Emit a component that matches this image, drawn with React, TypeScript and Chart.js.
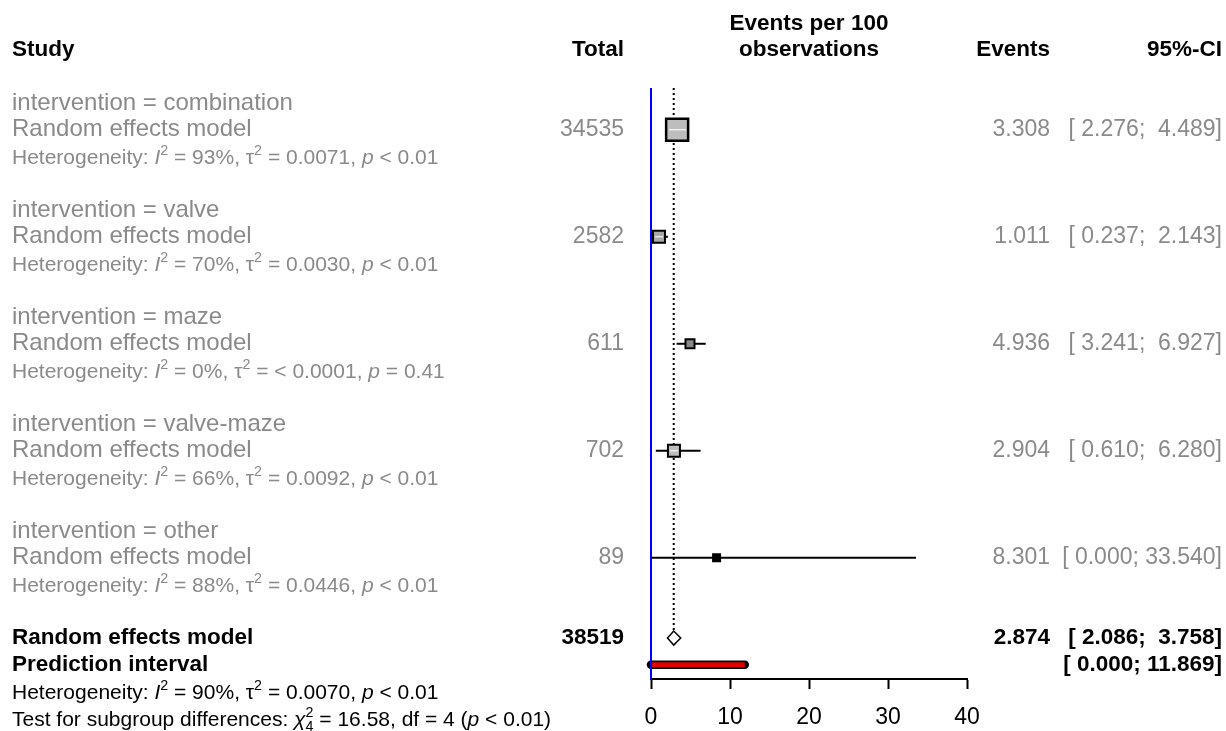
import React, { useEffect, useRef } from "react";
import { Chart, registerables } from "chart.js";
Chart.register(...registerables);

// ---------- data ----------
const groups = ["combination", "valve", "maze", "valve-maze", "other"];
const totals = [34535, 2582, 611, 702, 89];
const estimates = [3.308, 1.011, 4.936, 2.904, 8.301];
const ciLower = [2.276, 0.237, 3.241, 0.61, 0.0];
const ciUpper = [4.489, 2.143, 6.927, 6.28, 33.54];
const hetI2 = ["93%", "70%", "0%", "66%", "88%"];
const hetTau2 = ["= 0.0071", "= 0.0030", "= < 0.0001", "= 0.0092", "= 0.0446"];
const hetP = ["< 0.01", "< 0.01", "= 0.41", "< 0.01", "< 0.01"];
const overallTotal = 38519;
const overallEst = [2.874];
const overallLower = [2.086];
const overallUpper = [3.758];
const predLower = [0.0];
const predUpper = [11.869];
const overallI2 = "90%";
const overallTau2 = "= 0.0070";
const overallP = "< 0.01";
const subChi2 = "16.58";
const subDf = "4";
const subP = "< 0.01";
const xTicks = [0, 10, 20, 30, 40];

// ---------- styles ----------
const boxSides = [22, 12, 9, 12, 7];
const boxFills = ["#bdbdbd", "#a8a8a8", "#8a8a8a", "#bdbdbd", "#000000"];
const FONT = "'Liberation Sans', Arial, Helvetica, sans-serif";
const GRAY = "#8a8a8a";
const Y_MIN = -0.56;
const Y_MAX = 21.53;

type Kind = "n" | "i" | "sup" | "supsub";
type Seg = [string, Kind];

function fontStr(size: number, weight: string, italic: boolean) {
  return `${italic ? "italic " : ""}${weight} ${size}px ${FONT}`;
}

function segWidth(ctx: CanvasRenderingContext2D, s: Seg, size: number, weight: string) {
  const [t, k] = s;
  if (k === "sup") {
    ctx.font = fontStr(size * 0.68, weight, false);
    return ctx.measureText(t).width;
  }
  if (k === "supsub") {
    ctx.font = fontStr(size * 0.68, weight, false);
    const [a, b] = t.split("|");
    return Math.max(ctx.measureText(a).width, ctx.measureText(b).width);
  }
  ctx.font = fontStr(size, weight, k === "i");
  return ctx.measureText(t).width;
}

function drawRich(
  ctx: CanvasRenderingContext2D,
  x: number,
  yc: number,
  segs: Seg[],
  size: number,
  color: string,
  weight = "normal",
  align: "left" | "right" | "center" = "left"
) {
  let total = 0;
  for (const s of segs) total += segWidth(ctx, s, size, weight);
  let cx = align === "left" ? x : align === "right" ? x - total : x - total / 2;
  const base = yc + size * 0.36;
  ctx.fillStyle = color;
  ctx.textAlign = "left";
  ctx.textBaseline = "alphabetic";
  for (const s of segs) {
    const [t, k] = s;
    const w = segWidth(ctx, s, size, weight);
    if (k === "sup") {
      ctx.font = fontStr(size * 0.68, weight, false);
      ctx.fillText(t, cx, base - size * 0.42);
    } else if (k === "supsub") {
      ctx.font = fontStr(size * 0.68, weight, false);
      const [a, b] = t.split("|");
      ctx.fillText(a, cx, base - size * 0.42);
      ctx.fillText(b, cx, base + size * 0.22);
    } else {
      ctx.font = fontStr(size, weight, k === "i");
      ctx.fillText(t, cx, base);
    }
    cx += w;
  }
}

function fmtCI(lo: number, hi: number) {
  const pad = (v: number) => v.toFixed(3).padStart(6, " ");
  return `[${pad(lo)}; ${pad(hi)}]`;
}

const textPlugin = {
  id: "forestText",
  afterDraw(chart: any) {
    const ctx: CanvasRenderingContext2D = chart.ctx;
    const ys = chart.scales.y;
    const xs = chart.scales.x;
    const Y = (r: number) => ys.getPixelForValue(r);
    const ca = chart.chartArea;
    const LEFT = 12;
    const TOTAL_R = 624;
    const EV_R = 1050;
    const CI_R = 1222;
    ctx.save();

    // diamond for overall estimate
    {
      const yc = Y(20);
      const h = 7;
      ctx.beginPath();
      ctx.moveTo(xs.getPixelForValue(overallLower[0]), yc);
      ctx.lineTo(xs.getPixelForValue(overallEst[0]), yc - h);
      ctx.lineTo(xs.getPixelForValue(overallUpper[0]), yc);
      ctx.lineTo(xs.getPixelForValue(overallEst[0]), yc + h);
      ctx.closePath();
      ctx.fillStyle = "#ffffff";
      ctx.fill();
      ctx.lineWidth = 1.5;
      ctx.strokeStyle = "#000";
      ctx.stroke();
    }

    // white CI segment inside boxes
    groups.forEach((g, k) => {
      const half = boxSides[k] / 2 - 2;
      if (half < 3) return;
      const xc = xs.getPixelForValue(estimates[k]);
      const x1 = Math.max(xs.getPixelForValue(ciLower[k]), xc - half);
      const x2 = Math.min(xs.getPixelForValue(ciUpper[k]), xc + half);
      const yc = Y(4 * k + 1);
      ctx.beginPath();
      ctx.moveTo(x1, yc);
      ctx.lineTo(x2, yc);
      ctx.strokeStyle = "rgba(255,255,255,0.9)";
      ctx.lineWidth = 1.2;
      ctx.stroke();
    });

    // headers
    const H = 22.5;
    ctx.fillStyle = "#000";
    ctx.textBaseline = "middle";
    ctx.font = fontStr(H, "bold", false);
    ctx.textAlign = "left";
    ctx.fillText("Study", LEFT, Y(-2));
    ctx.textAlign = "right";
    ctx.fillText("Total", TOTAL_R, Y(-2));
    ctx.fillText("Events", EV_R, Y(-2));
    ctx.fillText("95%-CI", CI_R, Y(-2));
    ctx.textAlign = "center";
    const cx = (ca.left + ca.right) / 2;
    ctx.fillText("Events per 100", cx, Y(-2.95));
    ctx.fillText("observations", cx, Y(-2));

    // subgroups
    const M = 24;
    const S = 21;
    groups.forEach((g, k) => {
      const r0 = 4 * k;
      ctx.fillStyle = GRAY;
      ctx.textBaseline = "middle";
      ctx.font = fontStr(M, "normal", false);
      ctx.textAlign = "left";
      ctx.fillText(`intervention = ${g}`, LEFT, Y(r0));
      ctx.fillText("Random effects model", LEFT, Y(r0 + 1));
      ctx.textAlign = "right";
      ctx.font = fontStr(23, "normal", false);
      ctx.fillText(String(totals[k]), TOTAL_R, Y(r0 + 1));
      ctx.fillText(estimates[k].toFixed(3), EV_R, Y(r0 + 1));
      ctx.fillText(fmtCI(ciLower[k], ciUpper[k]), CI_R, Y(r0 + 1));
      drawRich(
        ctx,
        LEFT,
        Y(r0 + 2),
        [
          ["Heterogeneity: ", "n"],
          ["I", "i"],
          ["2", "sup"],
          [` = ${hetI2[k]}, `, "n"],
          ["\u03C4", "n"],
          ["2", "sup"],
          [` ${hetTau2[k]}, `, "n"],
          ["p", "i"],
          [` ${hetP[k]}`, "n"],
        ],
        S,
        GRAY
      );
    });

    // overall
    const B = 22.5;
    ctx.fillStyle = "#000";
    ctx.textBaseline = "middle";
    ctx.font = fontStr(B, "bold", false);
    ctx.textAlign = "left";
    ctx.fillText("Random effects model", LEFT, Y(20));
    ctx.fillText("Prediction interval", LEFT, Y(21));
    ctx.textAlign = "right";
    ctx.fillText(String(overallTotal), TOTAL_R, Y(20));
    ctx.fillText(overallEst[0].toFixed(3), EV_R, Y(20));
    ctx.fillText(fmtCI(overallLower[0], overallUpper[0]), CI_R, Y(20));
    ctx.fillText(fmtCI(predLower[0], predUpper[0]), CI_R, Y(21));
    drawRich(
      ctx,
      LEFT,
      Y(22),
      [
        ["Heterogeneity: ", "n"],
        ["I", "i"],
        ["2", "sup"],
        [` = ${overallI2}, `, "n"],
        ["\u03C4", "n"],
        ["2", "sup"],
        [` ${overallTau2}, `, "n"],
        ["p", "i"],
        [` ${overallP}`, "n"],
      ],
      S,
      "#000"
    );
    drawRich(
      ctx,
      LEFT,
      Y(23),
      [
        ["Test for subgroup differences: ", "n"],
        ["\u03C7", "i"],
        [`2|${subDf}`, "supsub"],
        [` = ${subChi2}, df = ${subDf} (`, "n"],
        ["p", "i"],
        [` ${subP})`, "n"],
      ],
      S,
      "#000"
    );
    ctx.restore();
  },
};

export default function App() {
  const ref = useRef<HTMLCanvasElement | null>(null);
  useEffect(() => {
    if (!ref.current) return;
    const ciSets = groups.map((g, k) => ({
      label: `ci-${g}`,
      data: [
        { x: ciLower[k], y: 4 * k + 1 },
        { x: ciUpper[k], y: 4 * k + 1 },
      ],
      showLine: true,
      borderColor: "#000",
      borderWidth: 2,
      pointRadius: 0,
      clip: false as any,
      order: 5,
    }));
    const chart = new Chart(ref.current, {
      type: "scatter",
      data: {
        datasets: [
          {
            label: "boxes",
            data: groups.map((g, k) => ({ x: estimates[k], y: 4 * k + 1 })),
            pointStyle: "rect",
            pointRadius: boxSides.map((s) => s / 2 / Math.SQRT1_2),
            backgroundColor: boxFills,
            borderColor: "#000",
            borderWidth: boxSides.map((s) => (s > 15 ? 2.5 : 2)),
            clip: false as any,
            order: 1,
          },
          ...ciSets,
          {
            label: "pred-red",
            data: [
              { x: predLower[0], y: 21 },
              { x: predUpper[0], y: 21 },
            ],
            showLine: true,
            borderColor: "#e00000",
            borderWidth: 5,
            borderCapStyle: "butt",
            pointRadius: 0,
            clip: false as any,
            order: 2,
          },
          {
            label: "pred-black",
            data: [
              { x: predLower[0], y: 21 },
              { x: predUpper[0], y: 21 },
            ],
            showLine: true,
            borderColor: "#000",
            borderWidth: 8.5,
            borderCapStyle: "round",
            pointRadius: 0,
            clip: false as any,
            order: 3,
          },
          {
            label: "overall",
            data: [
              { x: overallEst[0], y: Y_MIN },
              { x: overallEst[0], y: 19.7 },
            ],
            showLine: true,
            borderColor: "#000",
            borderWidth: 2,
            borderDash: [2, 3],
            pointRadius: 0,
            clip: false as any,
            order: 6,
          },
          {
            label: "ref",
            data: [
              { x: 0, y: Y_MIN },
              { x: 0, y: Y_MAX },
            ],
            showLine: true,
            borderColor: "#0000ff",
            borderWidth: 2,
            pointRadius: 0,
            clip: false as any,
            order: 0,
          },
        ],
      },
      options: {
        responsive: false,
        animation: false,
        layout: { padding: { left: 651, right: 259, top: 88, bottom: 0 } },
        plugins: { legend: { display: false }, tooltip: { enabled: false } },
        scales: {
          x: {
            type: "linear",
            min: 0,
            max: 40,
            afterBuildTicks: (s: any) => {
              s.ticks = xTicks.map((v) => ({ value: v }));
            },
            afterFit: (s: any) => {
              s.height = 52;
            },
            ticks: {
              font: { family: FONT, size: 23 },
              color: "#000",
              padding: 15,
              maxRotation: 0,
              autoSkip: false,
            },
            grid: {
              drawOnChartArea: false,
              drawTicks: true,
              tickLength: 10,
              tickWidth: 2,
              tickColor: "#000",
            },
            border: { display: true, color: "#000", width: 2 },
          },
          y: { type: "linear", min: Y_MIN, max: Y_MAX, reverse: true, display: false },
        },
      },
      plugins: [textPlugin],
    });
    return () => chart.destroy();
  }, []);
  return (
    <div style={{ position: "fixed", left: 0, top: 0, width: 1226, height: 731, background: "#fff" }}>
      <canvas ref={ref} width={1226} height={731} />
    </div>
  );
}
